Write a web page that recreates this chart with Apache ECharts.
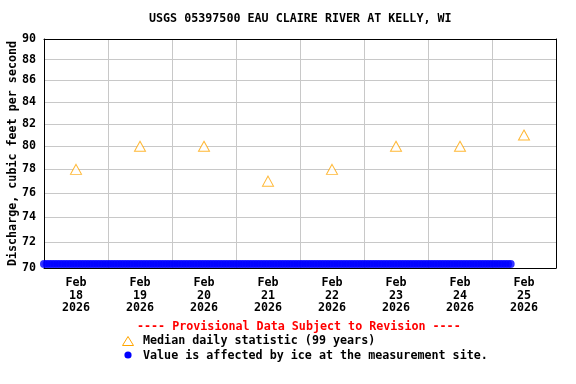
<!DOCTYPE html>
<html><head><meta charset="utf-8">
<script src="https://cdn.jsdelivr.net/npm/echarts@6/dist/echarts.min.js"></script>
<style>html,body{margin:0;padding:0;background:#fff}#c{width:576px;height:384px}</style>
</head><body><div id="c"></div>
<script>
const titleText = 'USGS 05397500 EAU CLAIRE RIVER AT KELLY, WI';
const provisionalText = '---- Provisional Data Subject to Revision ----';
const yAxisName = 'Discharge, cubic feet per second';
const dayLabels = ['Feb\n18\n2026','Feb\n19\n2026','Feb\n20\n2026','Feb\n21\n2026','Feb\n22\n2026','Feb\n23\n2026','Feb\n24\n2026','Feb\n25\n2026'];
const medianValues = [78, 80, 80, 77, 78, 80, 80, 81];
const medianName = 'Median daily statistic (99 years)';
const iceName = 'Value is affected by ice at the measurement site.';
const yTickValues = [70, 72, 74, 76, 78, 80, 82, 84, 86, 88, 90];
const yMin = 70, yMax = 90;
const periodStart = Date.UTC(2026, 1, 18, 0, 0);
const periodEnd = Date.UTC(2026, 1, 26, 0, 0);
const iceStepHours = 1;
// hourly ice-affected readings from Feb 18 00:00 to Feb 25 07:00
const iceValues = [
70.3,70.3,70.3,70.3,70.3,70.3,70.3,70.3,70.3,70.3,70.3,70.3,70.3,70.3,70.3,70.3,70.3,70.3,70.3,70.3,70.3,70.3,70.3,70.3,
70.3,70.3,70.3,70.3,70.3,70.3,70.3,70.3,70.3,70.3,70.3,70.3,70.3,70.3,70.3,70.3,70.3,70.3,70.3,70.3,70.3,70.3,70.3,70.3,
70.3,70.3,70.3,70.3,70.3,70.3,70.3,70.3,70.3,70.3,70.3,70.3,70.3,70.3,70.3,70.3,70.3,70.3,70.3,70.3,70.3,70.3,70.3,70.3,
70.3,70.3,70.3,70.3,70.3,70.3,70.3,70.3,70.3,70.3,70.3,70.3,70.3,70.3,70.3,70.3,70.3,70.3,70.3,70.3,70.3,70.3,70.3,70.3,
70.3,70.3,70.3,70.3,70.3,70.3,70.3,70.3,70.3,70.3,70.3,70.3,70.3,70.3,70.3,70.3,70.3,70.3,70.3,70.3,70.3,70.3,70.3,70.3,
70.3,70.3,70.3,70.3,70.3,70.3,70.3,70.3,70.3,70.3,70.3,70.3,70.3,70.3,70.3,70.3,70.3,70.3,70.3,70.3,70.3,70.3,70.3,70.3,
70.3,70.3,70.3,70.3,70.3,70.3,70.3,70.3,70.3,70.3,70.3,70.3,70.3,70.3,70.3,70.3,70.3,70.3,70.3,70.3,70.3,70.3,70.3,70.3,
70.3,70.3,70.3,70.3,70.3,70.3,70.3,70.3
];
const iceData = iceValues.map((v, i) => [periodStart + i * iceStepHours * 3600000, v]);
const innerGridValues = yTickValues.filter(v => v > yMin && v < yMax);

const FONT = '"DejaVu Sans Mono", monospace';
const FS = 11.7;
const BOLD = 'bold ' + FS + 'px ' + FONT;
const GRID_C = '#c8c8c8';
const chart = echarts.init(document.getElementById('c'), null, {renderer: 'canvas'});
chart.setOption({
  animation: false,
  backgroundColor: '#fff',
  grid: {left: 44, right: 20, top: 39, bottom: 116, outerBoundsMode: 'none', containLabel: false},
  graphic: [
    {type: 'text', left: 149, top: 13, style: {text: titleText, font: BOLD, fill: '#000'}},
    {type: 'text', left: 137, top: 321, style: {text: provisionalText, font: BOLD, fill: '#ff0000'}},
    {type: 'polygon', shape: {points: [[128, 336.5], [122.5, 345.5], [133.5, 345.5]]}, style: {fill: '#fff', stroke: '#FFA500', lineWidth: 1}},
    {type: 'text', left: 143, top: 335, style: {text: medianName, font: BOLD, fill: '#000'}},
    {type: 'circle', shape: {cx: 128, cy: 355, r: 3.6}, style: {fill: '#0000ff'}},
    {type: 'text', left: 143, top: 350, style: {text: iceName, font: BOLD, fill: '#000'}}
  ],
  xAxis: [
    {type: 'category', data: dayLabels, boundaryGap: true, z: 0,
     axisLine: {show: true, onZero: false, lineStyle: {color: '#000', width: 1}}, axisTick: {show: false},
     splitLine: {show: true, lineStyle: {color: GRID_C, width: 1}},
     axisLabel: {interval: 0, fontFamily: FONT, fontWeight: 'bold', fontSize: FS, color: '#000', lineHeight: 12.5, margin: 9}},
    {type: 'time', min: periodStart, max: periodEnd, show: false},
    {type: 'category', data: dayLabels, position: 'top', boundaryGap: true, z: 2,
     axisLine: {show: true, onZero: false, lineStyle: {color: '#000', width: 1}}, axisTick: {show: false},
     axisLabel: {show: false}, splitLine: {show: false}}
  ],
  yAxis: [
    {type: 'log', logBase: 10, min: yMin, max: yMax, z: 2,
     name: yAxisName, nameLocation: 'middle', nameGap: 25, nameMoveOverlap: false,
     nameTextStyle: {fontFamily: FONT, fontWeight: 'bold', fontSize: FS, color: '#000'},
     axisLine: {show: true, onZero: false, lineStyle: {color: '#000', width: 1}},
     axisTick: {show: false, customValues: innerGridValues},
     splitLine: {show: true, lineStyle: {color: GRID_C, width: 1}},
     axisLabel: {customValues: yTickValues, fontFamily: FONT, fontWeight: 'bold', fontSize: FS, color: '#000', margin: 8}},
    {type: 'log', logBase: 10, min: yMin, max: yMax, position: 'right', z: 2,
     axisLine: {show: true, onZero: false, lineStyle: {color: '#000', width: 1}},
     axisTick: {show: false}, axisLabel: {show: false}, splitLine: {show: false}}
  ],
  series: [
    {name: medianName, type: 'scatter', xAxisIndex: 0, yAxisIndex: 0, data: medianValues,
     symbol: 'triangle', symbolSize: [11, 10],
     itemStyle: {color: '#fff', borderColor: '#FFA500', borderWidth: 1}, z: 3},
    {name: iceName, type: 'scatter', xAxisIndex: 1, yAxisIndex: 0, data: iceData, clip: false,
     symbol: 'circle', symbolSize: 8, itemStyle: {color: '#0000ff'}, z: 4}
  ]
});
</script></body></html>
